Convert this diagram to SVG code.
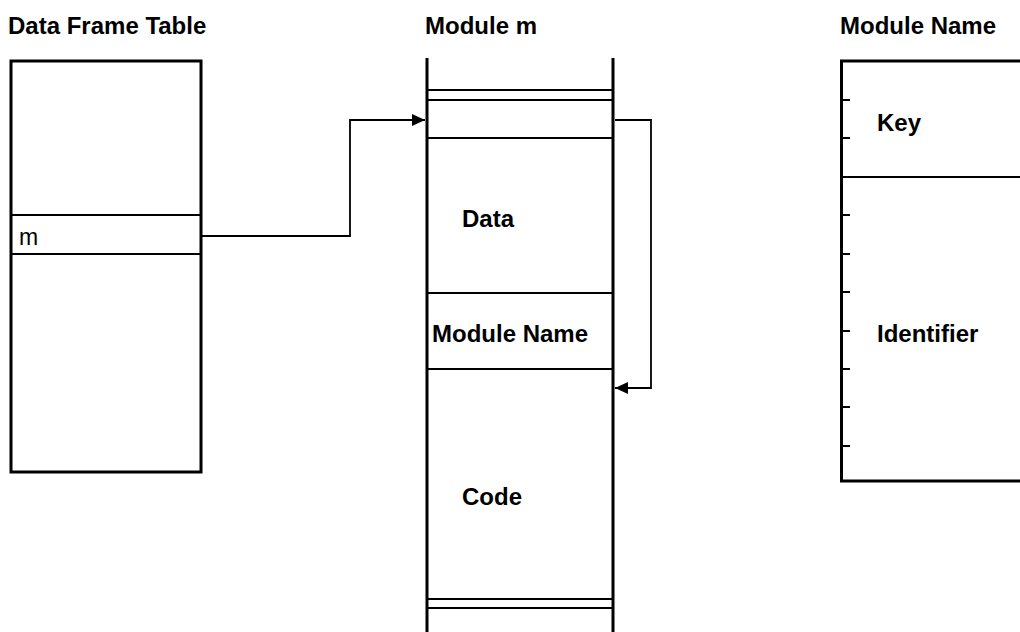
<svg xmlns="http://www.w3.org/2000/svg" width="1020" height="632" viewBox="0 0 1020 632">
<style>
.t{font-family:"Liberation Sans",Arial,sans-serif;font-size:24px;font-weight:bold;fill:#000}
.l{font-family:"Liberation Sans",Arial,sans-serif;font-size:24px;font-weight:bold;fill:#000}
.m{font-family:"Liberation Sans",Arial,sans-serif;font-size:23px;fill:#000}
.thick{stroke:#000;stroke-width:3;fill:none}
.thin{stroke:#000;stroke-width:2;fill:none}
.conn{stroke:#000;stroke-width:1.8;fill:none}
</style>
<defs>
<marker id="ah" markerWidth="13" markerHeight="12" refX="13" refY="6" orient="auto" markerUnits="userSpaceOnUse">
<path d="M0,0 L13,6 L0,12 Z" fill="#000"/>
</marker>
</defs>
<rect width="1020" height="632" fill="#fff"/>
<g id="dataFrameTable">
<text class="t" x="8" y="34">Data Frame Table</text>
<rect class="thick" x="11" y="61" width="190" height="411"/>
<line class="thin" x1="11" y1="215" x2="201" y2="215"/>
<line class="thin" x1="11" y1="254" x2="201" y2="254"/>
<text class="m" x="19" y="245">m</text>
</g>
<g id="moduleM">
<text class="t" x="425" y="34">Module m</text>
<line class="thick" x1="427" y1="58" x2="427" y2="632"/>
<line class="thick" x1="613" y1="58" x2="613" y2="632"/>
<line class="thin" x1="427" y1="90" x2="613" y2="90"/>
<line class="thin" x1="427" y1="100" x2="613" y2="100"/>
<line class="thin" x1="427" y1="138" x2="613" y2="138"/>
<line class="thin" x1="427" y1="293" x2="613" y2="293"/>
<line class="thin" x1="427" y1="369" x2="613" y2="369"/>
<line class="thin" x1="427" y1="599" x2="613" y2="599"/>
<line class="thin" x1="427" y1="608" x2="613" y2="608"/>
<text class="l" x="462" y="227">Data</text>
<text class="l" x="432" y="342">Module Name</text>
<text class="l" x="462" y="505">Code</text>
</g>
<g id="moduleName">
<text class="t" x="840" y="34">Module Name</text>
<path class="thick" d="M1022,61 H841.5 V481 H1022"/>
<line class="thin" x1="841" y1="177" x2="1020" y2="177"/>
<g class="thin">
<line x1="841" y1="100" x2="850" y2="100"/>
<line x1="841" y1="138" x2="850" y2="138"/>
<line x1="841" y1="215" x2="850" y2="215"/>
<line x1="841" y1="254" x2="850" y2="254"/>
<line x1="841" y1="292" x2="850" y2="292"/>
<line x1="841" y1="331" x2="850" y2="331"/>
<line x1="841" y1="369" x2="850" y2="369"/>
<line x1="841" y1="407" x2="850" y2="407"/>
<line x1="841" y1="446" x2="850" y2="446"/>
</g>
<text class="l" x="877" y="131">Key</text>
<text class="l" x="877" y="342">Identifier</text>
</g>
<g id="connectors">
<path class="conn" d="M202,236 H350 V120 H425" marker-end="url(#ah)"/>
<path class="conn" d="M615,120 H651 V388 H615" marker-end="url(#ah)"/>
</g>
</svg>
